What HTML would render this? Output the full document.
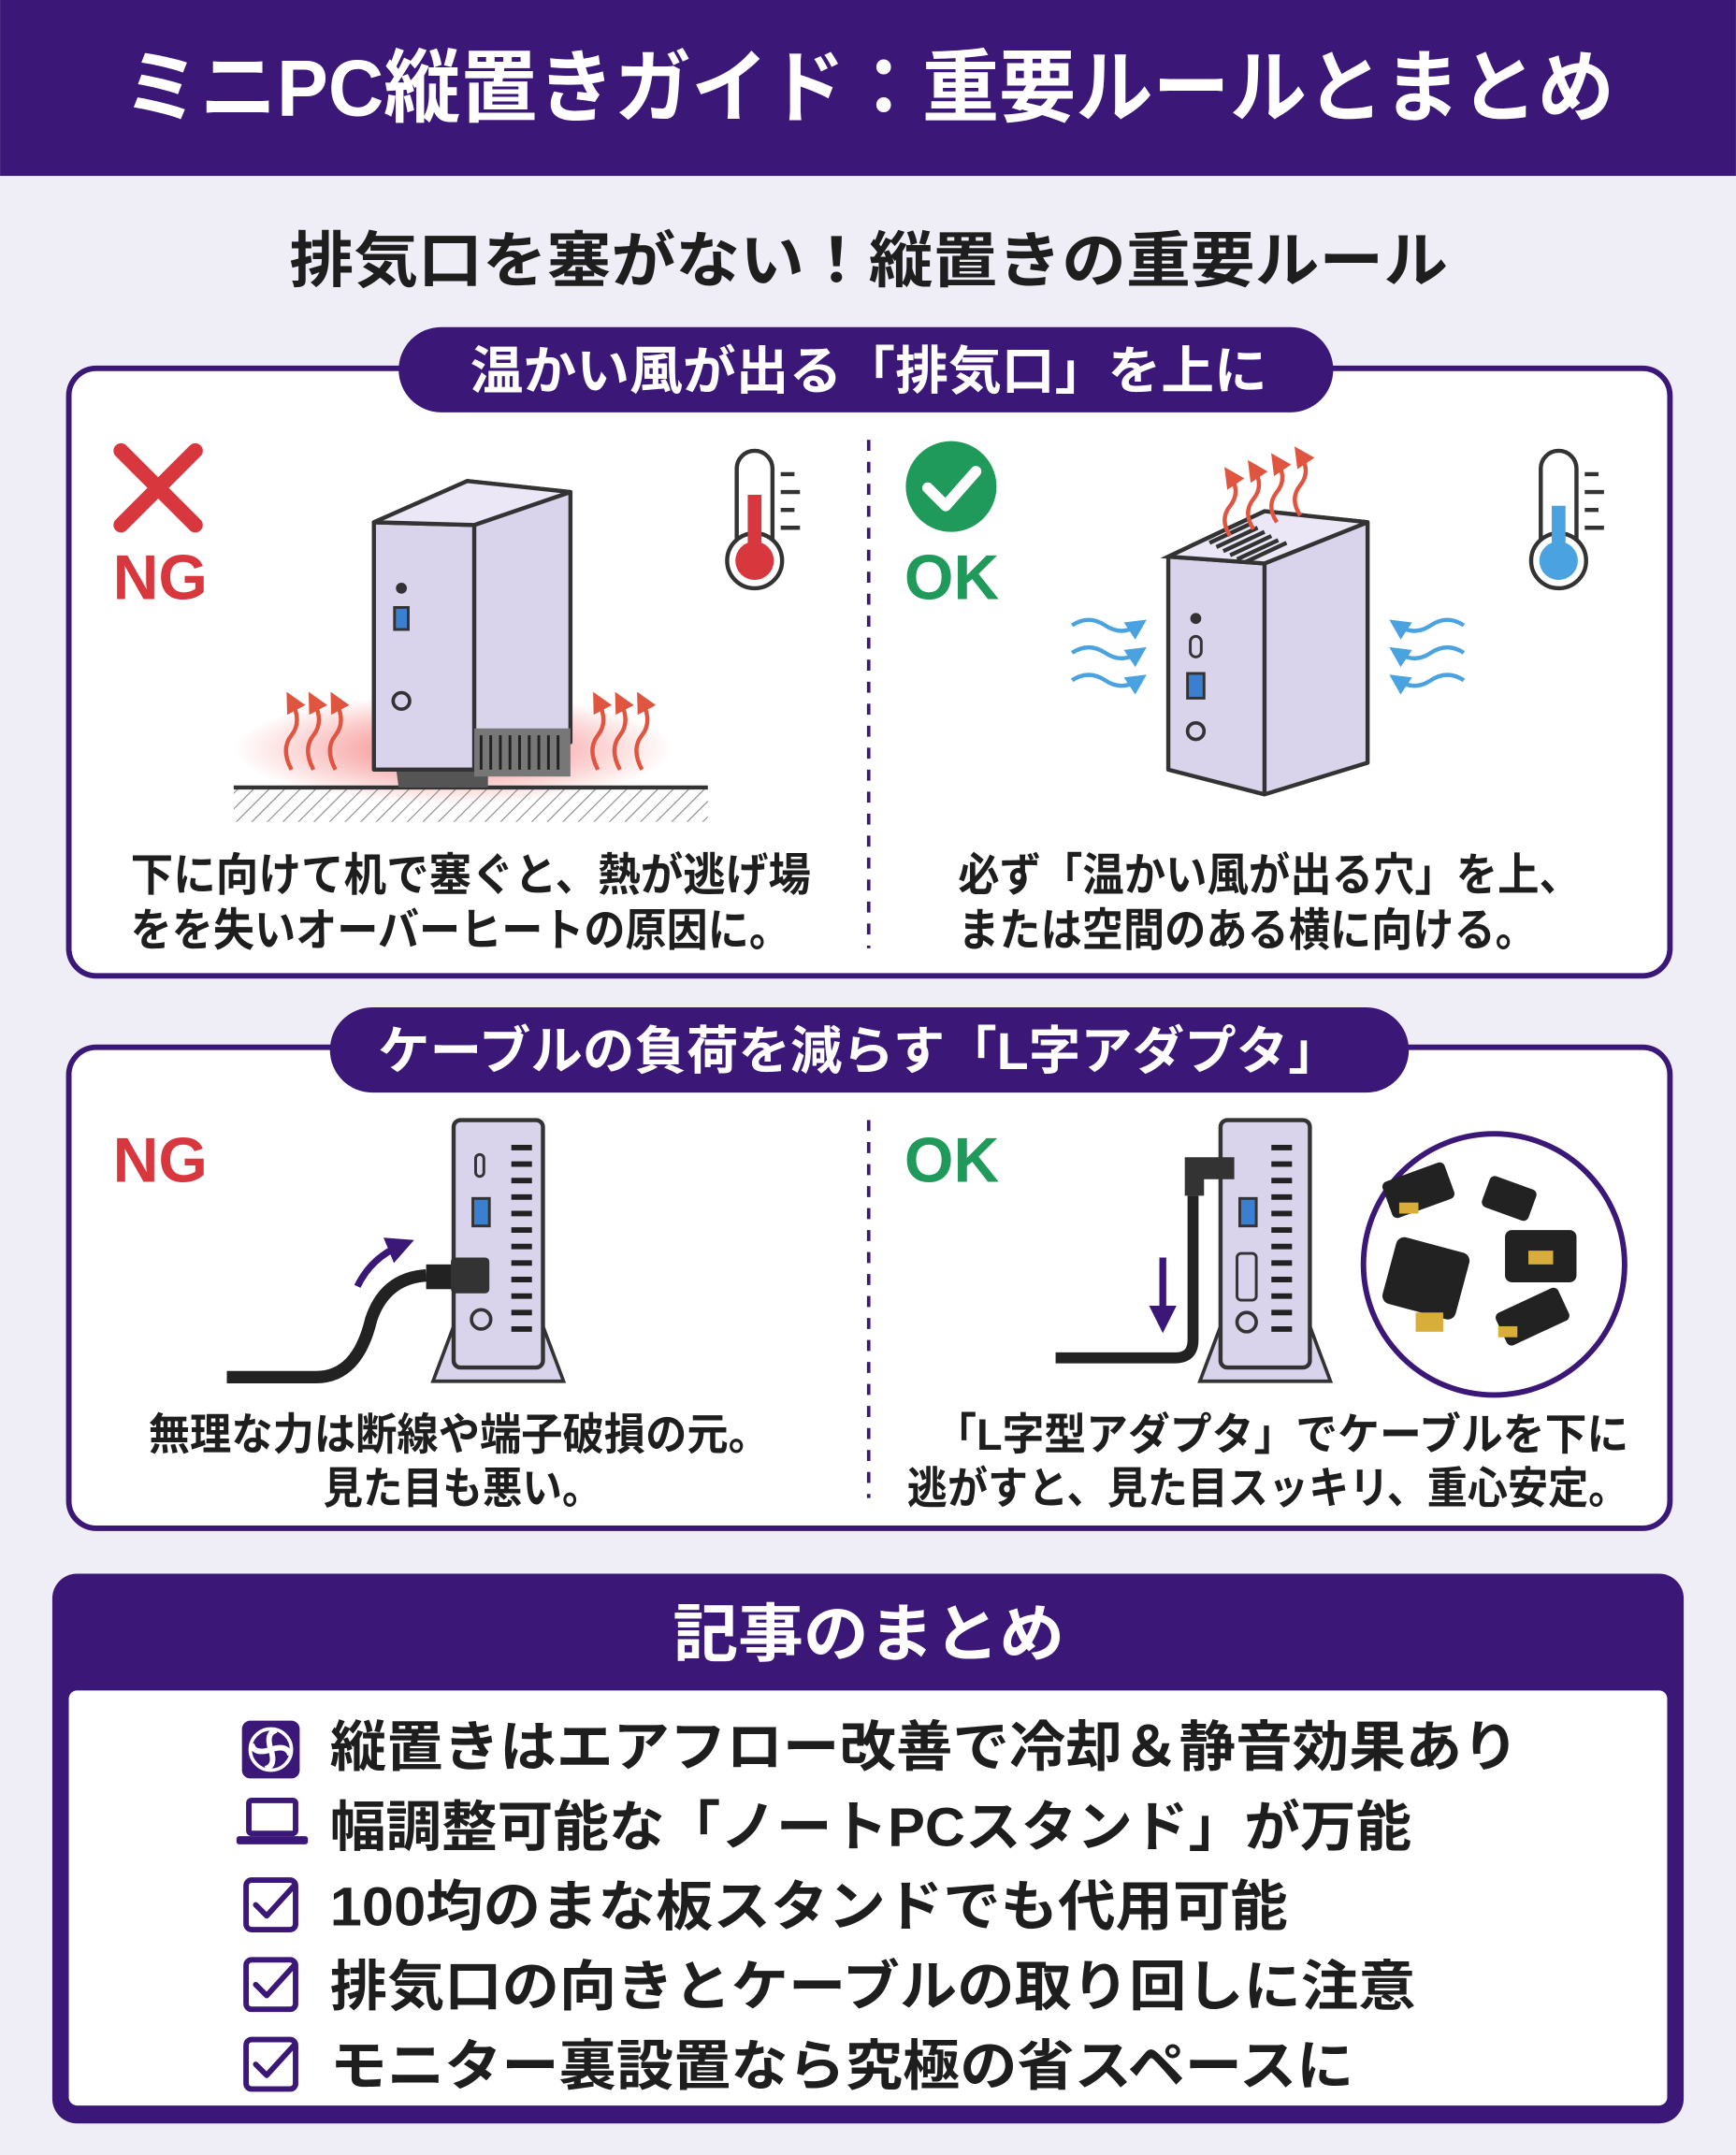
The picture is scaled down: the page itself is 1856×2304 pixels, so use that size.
<!DOCTYPE html>
<html><head><meta charset="utf-8">
<style>
html,body{margin:0;padding:0;background:#efedf6;}
svg{display:block;}
text{font-family:"Liberation Sans","Noto Sans CJK JP",sans-serif;font-weight:bold;}
</style></head>
<body>
<svg width="1856" height="2304" viewBox="0 0 1263 1568" xmlns="http://www.w3.org/2000/svg">
<defs>
<radialGradient id="heat" cx="0.5" cy="0.5" r="0.5">
<stop offset="0" stop-color="#f04040" stop-opacity="0.7"/>
<stop offset="1" stop-color="#f04040" stop-opacity="0"/>
</radialGradient>
<pattern id="hatch" width="8" height="8" patternUnits="userSpaceOnUse" patternTransform="rotate(45)">
<line x1="0" y1="0" x2="0" y2="8" stroke="#888" stroke-width="1.5"/>
</pattern>
<marker id="ah" viewBox="0 0 10 10" refX="5" refY="5" markerWidth="5" markerHeight="5" orient="auto"><path d="M0,0L10,5L0,10z" fill="#e0553f"/></marker>
<marker id="ahp" viewBox="0 0 10 10" refX="5" refY="5" markerWidth="4" markerHeight="4" orient="auto"><path d="M0,0L10,5L0,10z" fill="#3b1877"/></marker>
<marker id="ahb" viewBox="0 0 10 10" refX="5" refY="5" markerWidth="5" markerHeight="5" orient="auto"><path d="M0,0L10,5L0,10z" fill="#4aa3e0"/></marker>
</defs>
<rect width="1263" height="1568" fill="#efedf6"/>
<rect x="0" y="0" width="1263" height="128" fill="#3b1877"/>
<text x="632" y="84" font-size="58" fill="#fff" text-anchor="middle" textLength="1085" lengthAdjust="spacingAndGlyphs">ミニPC縦置きガイド：重要ルールとまとめ</text>
<text x="632" y="205" font-size="44" fill="#1e1e1e" text-anchor="middle" textLength="843" lengthAdjust="spacingAndGlyphs">排気口を塞がない！縦置きの重要ルール</text>

<!-- Box 1 -->
<rect x="50" y="268" width="1165" height="442" rx="20" fill="#fff" stroke="#3b1877" stroke-width="4"/>
<rect x="290" y="238" width="680" height="62" rx="31" fill="#3b1877"/>
<text x="632" y="283" font-size="38" fill="#fff" text-anchor="middle" textLength="580" lengthAdjust="spacingAndGlyphs">温かい風が出る「排気口」を上に</text>
<line x1="632" y1="320" x2="632" y2="690" stroke="#3b1877" stroke-width="2.5" stroke-dasharray="8 8"/>

<!-- NG X -->
<path d="M88,328 L142,382 M142,328 L88,382" stroke="#d8373e" stroke-width="11" stroke-linecap="round"/>
<text x="82" y="436" font-size="46" fill="#d8373e">NG</text>
<!-- thermometer red -->
<rect x="536" y="328" width="26" height="80" rx="13" fill="#fff" stroke="#333" stroke-width="3"/>
<circle cx="549" cy="408" r="20" fill="#fff" stroke="#333" stroke-width="3"/>
<circle cx="549" cy="408" r="14" fill="#d8373e"/>
<rect x="544" y="360" width="10" height="50" fill="#d8373e"/>
<path d="M568,345h10M568,358h14M568,371h10M568,384h14" stroke="#333" stroke-width="3"/>
<!-- NG pc on side -->
<ellipse cx="330" cy="545" rx="160" ry="40" fill="url(#heat)"/>
<rect x="170" y="573" width="345" height="25" fill="url(#hatch)"/>
<line x1="170" y1="573" x2="515" y2="573" stroke="#333" stroke-width="3"/>
<path d="M285,535 L355,535 L355,573 L290,573 Z" fill="#555" />
<path d="M272,380 L340,350 L415,358 L415,540 L345,560 L272,560 Z" fill="#d9d3ec" stroke="#333" stroke-width="3" stroke-linejoin="round"/>
<path d="M272,380 L345,382 L415,358 M345,382 L345,560" stroke="#333" stroke-width="3" fill="none"/>
<path d="M272,380 L340,350 L415,358 L345,382 Z" fill="#ebe7f6" stroke="#333" stroke-width="3" stroke-linejoin="round"/>
<rect x="345" y="530" width="70" height="35" fill="#777"/>
<path d="M350,535v25M357,535v25M364,535v25M371,535v25M378,535v25M385,535v25M392,535v25M399,535v25M406,535v25" stroke="#222" stroke-width="2"/>
<circle cx="292" cy="428" r="4" fill="#333"/>
<rect x="287" y="442" width="10" height="16" fill="#3a7fd0" stroke="#333" stroke-width="2"/>
<circle cx="292" cy="510" r="6" fill="none" stroke="#333" stroke-width="2.5"/>
<g stroke="#e0553f" stroke-width="3" fill="none" marker-end="url(#ah)">
<path d="M212,560 q-8,-15 0,-25 q8,-10 0,-25"/>
<path d="M228,560 q-8,-15 0,-25 q8,-10 0,-25"/>
<path d="M244,560 q-8,-15 0,-25 q8,-10 0,-25"/>
<path d="M435,560 q-8,-15 0,-25 q8,-10 0,-25"/>
<path d="M451,560 q-8,-15 0,-25 q8,-10 0,-25"/>
<path d="M467,560 q-8,-15 0,-25 q8,-10 0,-25"/>
</g>
<text x="95" y="648" font-size="33" fill="#1e1e1e" textLength="495" lengthAdjust="spacingAndGlyphs">下に向けて机で塞ぐと、熱が逃げ場</text>
<text x="95" y="688" font-size="33" fill="#1e1e1e" textLength="480" lengthAdjust="spacingAndGlyphs">をを失いオーバーヒートの原因に。</text>

<!-- OK -->
<circle cx="692" cy="354" r="33" fill="#1f9a5a"/>
<path d="M675,355 L688,368 L710,343" stroke="#fff" stroke-width="8" fill="none" stroke-linecap="round" stroke-linejoin="round"/>
<text x="658" y="436" font-size="46" fill="#1f9a5a">OK</text>
<rect x="1121" y="328" width="26" height="80" rx="13" fill="#fff" stroke="#333" stroke-width="3"/>
<circle cx="1134" cy="408" r="20" fill="#fff" stroke="#333" stroke-width="3"/>
<circle cx="1134" cy="408" r="14" fill="#4aa3e0"/>
<rect x="1129" y="368" width="10" height="40" fill="#4aa3e0"/>
<path d="M1153,345h10M1153,358h14M1153,371h10M1153,384h14" stroke="#333" stroke-width="3"/>
<path d="M850,405 L920,372 L995,380 L995,555 L920,578 L850,560 Z" fill="#d9d3ec" stroke="#333" stroke-width="3" stroke-linejoin="round"/>
<path d="M850,405 L920,410 L995,380 M920,410 L920,578" stroke="#333" stroke-width="3" fill="none"/>
<path d="M850,405 L920,372 L995,380 L920,410 Z" fill="#ebe7f6" stroke="#333" stroke-width="3"/>
<path d="M880,395l30,-14M885,398l30,-14M890,401l30,-14M895,404l30,-14M900,407l30,-14M906,409l30,-14" stroke="#333" stroke-width="3"/>
<circle cx="870" cy="450" r="4" fill="#333"/>
<rect x="866" y="463" width="8" height="15" rx="4" fill="none" stroke="#333" stroke-width="2"/>
<rect x="864" y="490" width="12" height="18" fill="#3a7fd0" stroke="#333" stroke-width="2"/>
<circle cx="870" cy="532" r="6" fill="none" stroke="#333" stroke-width="2.5"/>
<g stroke="#e0553f" stroke-width="3" fill="none" marker-end="url(#ah)">
<path d="M895,390 q-8,-12 0,-22 q8,-10 0,-22"/>
<path d="M912,385 q-8,-12 0,-22 q8,-10 0,-22"/>
<path d="M929,380 q-8,-12 0,-22 q8,-10 0,-22"/>
<path d="M946,375 q-8,-12 0,-22 q8,-10 0,-22"/>
</g>
<g stroke="#4aa3e0" stroke-width="3" fill="none">
<path d="M780,455 q12,-8 24,0 t24,0" marker-end="url(#ahb)"/>
<path d="M780,475 q12,-8 24,0 t24,0" marker-end="url(#ahb)"/>
<path d="M780,495 q12,-8 24,0 t24,0" marker-end="url(#ahb)"/>
<path d="M1065,455 q-12,-8 -24,0 t-24,0" marker-end="url(#ahb)"/>
<path d="M1065,475 q-12,-8 -24,0 t-24,0" marker-end="url(#ahb)"/>
<path d="M1065,495 q-12,-8 -24,0 t-24,0" marker-end="url(#ahb)"/>
</g>
<text x="697" y="648" font-size="33" fill="#1e1e1e" textLength="453" lengthAdjust="spacingAndGlyphs">必ず「温かい風が出る穴」を上、</text>
<text x="697" y="688" font-size="33" fill="#1e1e1e" textLength="421" lengthAdjust="spacingAndGlyphs">または空間のある横に向ける。</text>

<!-- Box 2 -->
<rect x="50" y="762" width="1165" height="350" rx="20" fill="#fff" stroke="#3b1877" stroke-width="4"/>
<rect x="240" y="733" width="785" height="62" rx="31" fill="#3b1877"/>
<text x="625" y="778" font-size="38" fill="#fff" text-anchor="middle" textLength="700" lengthAdjust="spacingAndGlyphs">ケーブルの負荷を減らす「L字アダプタ」</text>
<line x1="632" y1="815" x2="632" y2="1090" stroke="#3b1877" stroke-width="2.5" stroke-dasharray="8 8"/>
<text x="82" y="860" font-size="46" fill="#d8373e">NG</text>
<text x="658" y="860" font-size="46" fill="#1f9a5a">OK</text>

<!-- NG stand pc -->
<path d="M315,1005 L330,965 L395,965 L410,1005 Z" fill="#d9d3ec" stroke="#333" stroke-width="2.5"/>
<rect x="330" y="815" width="65" height="180" rx="5" fill="#d9d3ec" stroke="#333" stroke-width="3"/>
<g stroke="#222" stroke-width="4">
<path d="M372,835h15M372,847h15M372,859h15M372,871h15M372,883h15M372,895h15M372,907h15M372,919h15M372,931h15M372,943h15M372,955h15M372,967h15"/>
</g>
<rect x="346" y="840" width="6" height="16" rx="3" fill="none" stroke="#333" stroke-width="2"/>
<rect x="344" y="872" width="12" height="20" fill="#3a7fd0" stroke="#333" stroke-width="2"/>
<circle cx="350" cy="960" r="7" fill="none" stroke="#333" stroke-width="2.5"/>
<path d="M165,1002 L230,1002 Q260,1002 270,960 Q280,930 310,928" stroke="#222" stroke-width="9" fill="none"/>
<rect x="310" y="920" width="20" height="18" fill="#222"/>
<rect x="328" y="915" width="28" height="26" rx="3" fill="#333"/>
<path d="M260,936 Q270,915 292,906" stroke="#3b1877" stroke-width="5" fill="none" marker-end="url(#ahp)"/>
<text x="108" y="1055" font-size="32" fill="#1e1e1e" textLength="452" lengthAdjust="spacingAndGlyphs">無理な力は断線や端子破損の元。</text>
<text x="235" y="1094" font-size="32" fill="#1e1e1e" textLength="203" lengthAdjust="spacingAndGlyphs">見た目も悪い。</text>

<!-- OK stand pc -->
<path d="M873,1005 L888,965 L953,965 L968,1005 Z" fill="#d9d3ec" stroke="#333" stroke-width="2.5"/>
<rect x="888" y="815" width="65" height="180" rx="5" fill="#d9d3ec" stroke="#333" stroke-width="3"/>
<g stroke="#222" stroke-width="4">
<path d="M925,835h15M925,847h15M925,859h15M925,871h15M925,883h15M925,895h15M925,907h15M925,919h15M925,931h15M925,943h15M925,955h15M925,967h15"/>
</g>
<rect x="902" y="872" width="12" height="20" fill="#3a7fd0" stroke="#333" stroke-width="2"/>
<rect x="900" y="912" width="14" height="34" rx="3" fill="none" stroke="#333" stroke-width="2"/>
<circle cx="907" cy="962" r="7" fill="none" stroke="#333" stroke-width="2.5"/>
<path d="M862,842 L898,842 L898,858 L876,858 L876,870 L862,870 Z" fill="#333"/>
<path d="M868,870 L868,975 Q868,988 855,988 L768,988" stroke="#222" stroke-width="8" fill="none"/>
<path d="M846,915 L846,960" stroke="#3b1877" stroke-width="5" marker-end="url(#ahp)"/>
<circle cx="1087" cy="920" r="95" fill="#fff" stroke="#3b1877" stroke-width="4"/>
<g fill="#222">
<rect x="1008" y="852" width="48" height="28" rx="4" transform="rotate(-20 1032 866)"/>
<rect x="1080" y="860" width="36" height="24" rx="4" transform="rotate(20 1098 872)"/>
<rect x="1095" y="895" width="52" height="38" rx="5"/>
<rect x="1010" y="905" width="55" height="50" rx="6" transform="rotate(15 1037 930)"/>
<rect x="1090" y="945" width="50" height="26" rx="4" transform="rotate(-25 1115 958)"/>
</g>
<g fill="#d8ad3a">
<rect x="1018" y="875" width="14" height="8"/>
<rect x="1112" y="910" width="18" height="10"/>
<rect x="1030" y="955" width="20" height="14"/>
<rect x="1090" y="965" width="14" height="8"/>
</g>
<text x="680" y="1055" font-size="32" fill="#1e1e1e" textLength="505" lengthAdjust="spacingAndGlyphs">「L字型アダプタ」でケーブルを下に</text>
<text x="660" y="1094" font-size="32" fill="#1e1e1e" textLength="525" lengthAdjust="spacingAndGlyphs">逃がすと、見た目スッキリ、重心安定。</text>

<!-- Summary -->
<rect x="38" y="1145" width="1187" height="400" rx="18" fill="#3b1877"/>
<rect x="50" y="1230" width="1163" height="302" rx="6" fill="#fff"/>
<text x="632" y="1205" font-size="46" fill="#fff" text-anchor="middle" textLength="285" lengthAdjust="spacingAndGlyphs">記事のまとめ</text>
<!-- icons -->
<rect x="176" y="1252" width="42" height="42" rx="6" fill="#3b1877"/>
<circle cx="197" cy="1273" r="15" fill="none" stroke="#fff" stroke-width="2.5"/>
<path d="M197,1273 q-4,-12 4,-14 M197,1273 q12,-4 14,4 M197,1273 q4,12 -4,14 M197,1273 q-12,4 -14,-4" stroke="#fff" stroke-width="4" fill="none"/>
<rect x="181" y="1310" width="34" height="24" rx="2" fill="none" stroke="#3b1877" stroke-width="4"/>
<rect x="172" y="1336" width="52" height="6" rx="2" fill="#3b1877"/>
<g fill="none" stroke="#3b1877" stroke-width="4" stroke-linejoin="round" stroke-linecap="round">
<rect x="179" y="1368" width="36" height="36" rx="4"/>
<path d="M186,1386 l8,8 l20,-22"/>
<rect x="179" y="1426" width="36" height="36" rx="4"/>
<path d="M186,1444 l8,8 l20,-22"/>
<rect x="179" y="1484" width="36" height="36" rx="4"/>
<path d="M186,1502 l8,8 l20,-22"/>
</g>
<g font-size="40" fill="#1e1e1e">
<text x="240" y="1285" textLength="865" lengthAdjust="spacingAndGlyphs">縦置きはエアフロー改善で冷却＆静音効果あり</text>
<text x="240" y="1343" textLength="787" lengthAdjust="spacingAndGlyphs">幅調整可能な「ノートPCスタンド」が万能</text>
<text x="240" y="1401" textLength="697" lengthAdjust="spacingAndGlyphs">100均のまな板スタンドでも代用可能</text>
<text x="240" y="1459" textLength="790" lengthAdjust="spacingAndGlyphs">排気口の向きとケーブルの取り回しに注意</text>
<text x="240" y="1517" textLength="745" lengthAdjust="spacingAndGlyphs">モニター裏設置なら究極の省スペースに</text>
</g>
</svg>
</body></html>
